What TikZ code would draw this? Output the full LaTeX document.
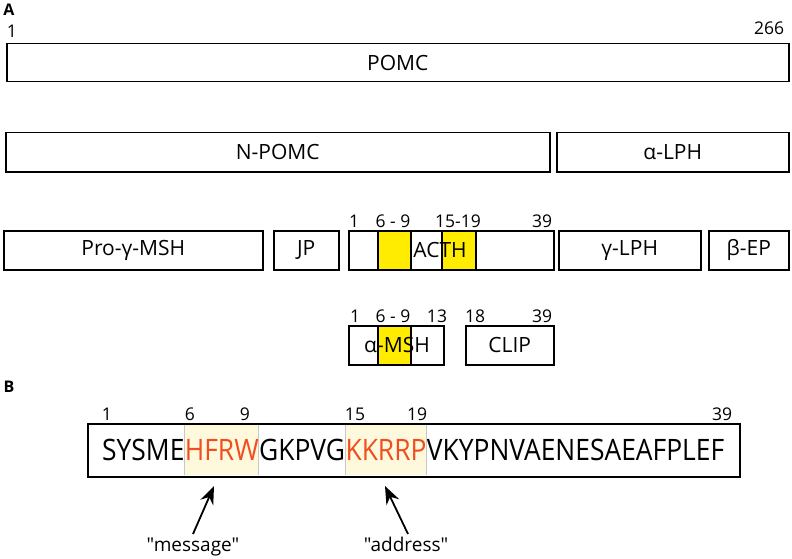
\documentclass[tikz,border=0pt]{standalone}
\usepackage{fontspec}
\setmainfont{Open Sans}[Ligatures=TeXOff]
\newfontfamily\seqfont{Open Sans}[Ligatures=TeXOff,FakeStretch=0.895]
\usetikzlibrary{arrows.meta}
\definecolor{hly}{HTML}{FFEC00}
\definecolor{seqred}{HTML}{F04E1F}
\definecolor{pale}{HTML}{FEF8DC}
\definecolor{edgegray}{HTML}{C8C8C8}
\begin{document}
\begin{tikzpicture}[x=1pt,y=-1pt,
  box/.style={draw,line width=1.5pt,anchor=north west,inner sep=0pt,minimum height=38pt,
    font=\fontsize{21}{24}\selectfont},
  ybox/.style={box,fill=hly},
  lbl/.style={inner sep=0pt,font=\fontsize{21}{24}\selectfont},
  num/.style={inner sep=0pt,font=\fontsize{17.5}{20}\selectfont},
  panel/.style={inner sep=0pt,font=\fontsize{16}{18}\selectfont\bfseries},
  seq/.style={anchor=west,inner xsep=0pt,inner ysep=0pt,minimum height=50pt,
    text height=22pt,text depth=0pt,font=\seqfont\fontsize{29.5}{32}\selectfont},
  hl/.style={seq,fill=pale,text=seqred},
  edge/.style={draw=edgegray,line width=1pt},
  quote/.style={inner sep=0pt,anchor=base,font=\fontsize{19}{22}\selectfont},
  arr/.style={line width=1.8pt,-{Stealth[length=18pt,width=14pt,inset=6pt]}}
]
\useasboundingbox (0,0) rectangle (792,559);

% Panel A
\node[panel] (pa) at (9,10) {A};
\node[num] (n1) at (12,31) {1};
\node[num] (n266) at (769,28) {266};
\node[box,minimum width=782pt] (pomc) at (6,43) {POMC};

\node[box,minimum width=544pt,minimum height=39pt] (npomc) at (5,132) {N-POMC};
\node[box,minimum width=232pt,minimum height=39pt] (alph) at (556,132) {α-LPH};

\node[box,minimum width=259pt,minimum height=39pt] (pgmsh) at (3,230) {Pro-γ-MSH};
\node[box,minimum width=65pt,minimum height=39pt] (jp) at (273,230) {JP};
\node[box,minimum width=205pt,minimum height=39pt] (acth) at (348,230) {};
\node[ybox,minimum width=33pt,minimum height=39pt] (ya) at (377,230) {};
\node[ybox,minimum width=34pt,minimum height=39pt] (yb) at (441,230) {};
\node[lbl] (acthl) at (440,249.5) {ACTH};
\node[box,minimum width=142pt,minimum height=39pt] (glph) at (558,230) {γ-LPH};
\node[box,minimum width=80pt,minimum height=39pt] (bep) at (708,230) {β-EP};

\node[num] (r3a) at (354,221) {1};
\node[num] (r3b) at (393,221) {6 - 9};
\node[num] (r3c) at (458,221) {15-19};
\node[num] (r3d) at (542,221) {39};

\node[box,minimum width=95pt,minimum height=39pt] (amsh) at (348,325) {};
\node[ybox,minimum width=33pt,minimum height=39pt] (yc) at (377,325) {};
\node[lbl] (amshl) at (397,345) {α-MSH};
\node[box,minimum width=88pt,minimum height=39pt] (clip) at (465,325) {CLIP};

\node[num] (r4a) at (355,316) {1};
\node[num] (r4b) at (393,316) {6 - 9};
\node[num] (r4c) at (437,316) {13};
\node[num] (r4d) at (475,316) {18};
\node[num] (r4e) at (542,316) {39};

% Panel B
\node[panel] (pb) at (9,387) {B};
\node[num] (s1) at (107,414) {1};
\node[num] (s6) at (190,414) {6};
\node[num] (s9) at (245,414) {9};
\node[num] (s15) at (355,414) {15};
\node[num] (s19) at (417,414) {19};
\node[num] (s39) at (722,414) {39};

\node[seq] (t1) at (102,449.5) {SYSME};
\node[hl] (t2) at (t1.east) {HFRW};
\node[seq] (t3) at (t2.east) {GKPVG};
\node[hl] (t4) at (t3.east) {KKRRP};
\node[seq] (t5) at (t4.east) {VKYPNVAENESAEAFPLEF};
\draw[edge] (t2.north west) -- (t2.south west);
\draw[edge] (t2.north east) -- (t2.south east);
\draw[edge] (t4.north west) -- (t4.south west);
\draw[edge] (t4.north east) -- (t4.south east);
\node[draw,line width=2pt,anchor=north west,inner sep=0pt,minimum width=652pt,minimum height=53pt] (seqbox) at (87,423) {};

\node[quote] (msg) at (193,551) {"message"};
\node[quote] (addr) at (406,551) {"address"};
\coordinate (tipm) at (214,486);
\coordinate (tipa) at (385,486);
\coordinate (tailm) at (193,534);
\coordinate (taila) at (408,534);
\draw[arr] (tailm) -- (tipm);
\draw[arr] (taila) -- (tipa);
\end{tikzpicture}
\end{document}
